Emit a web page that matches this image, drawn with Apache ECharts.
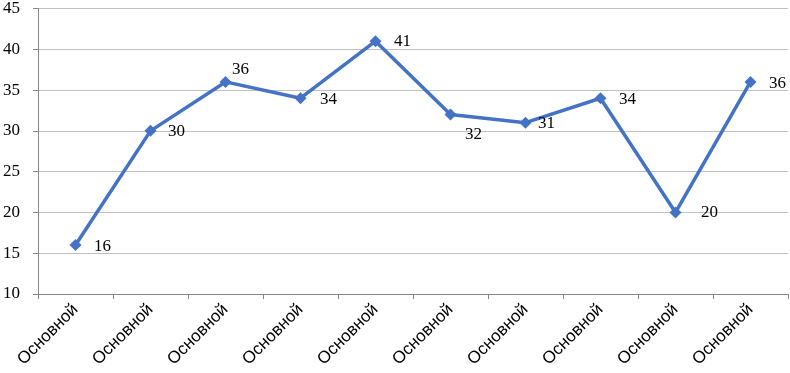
<!DOCTYPE html>
<html><head><meta charset="utf-8">
<script src="https://cdn.jsdelivr.net/npm/echarts@6/dist/echarts.min.js"></script>
<style>html,body{margin:0;padding:0;background:#fff}#c{width:790px;height:373px}</style>
</head><body><div id="c"></div>
<script>
const categories = ['Основной','Основной','Основной','Основной','Основной','Основной','Основной','Основной','Основной','Основной'];
const values = [16, 30, 36, 34, 41, 32, 31, 34, 20, 36];
const yTicks = {min: 10, max: 45, interval: 5};
// label placement (style only): offset of each value label from its point
const labelOffsets = [[27,1],[26,1],[15,-12],[28,1],[27,0],[23,20],[21,1],[27,1],[34,0],[27,2]];

const chart = echarts.init(document.getElementById('c'));
chart.setOption({
  animation: false,
  grid: {left: 36, right: 2, top: 7, bottom: 79, containLabel: false},
  xAxis: {
    type: 'category', data: categories, boundaryGap: true,
    axisLine: {lineStyle: {color: '#868686', width: 1}},
    axisTick: {show: true, length: 5, lineStyle: {color: '#868686'}},
    axisLabel: {rotate: 45, fontFamily: 'Liberation Sans', fontSize: 17, color: '#000', margin: 13}
  },
  yAxis: {
    type: 'value', min: yTicks.min, max: yTicks.max, interval: yTicks.interval,
    axisLine: {show: true, lineStyle: {color: '#868686'}},
    axisTick: {show: true, length: 5, lineStyle: {color: '#868686'}},
    splitLine: {lineStyle: {color: '#bfbfbf'}},
    axisLabel: {fontFamily: 'Liberation Serif', fontSize: 17, color: '#000', margin: 18}
  },
  series: [{
    type: 'line', data: values.map((v, i) => ({
      value: v,
      label: {show: true, position: 'inside', offset: labelOffsets[i]}
    })),
    lineStyle: {color: '#4472C4', width: 3.5},
    itemStyle: {color: '#4472C4'},
    symbol: 'diamond', symbolSize: 12,
    label: {fontFamily: 'Liberation Serif', fontSize: 17, color: '#000'}
  }]
});
</script></body></html>
